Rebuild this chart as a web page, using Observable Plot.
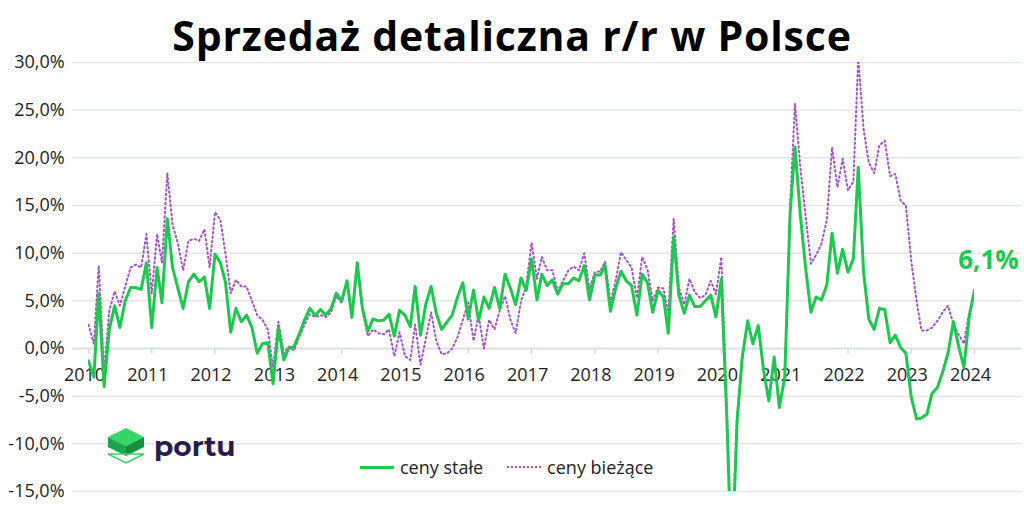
<!DOCTYPE html>
<html><head><meta charset="utf-8">
<script src="https://cdn.jsdelivr.net/npm/d3@7"></script>
<script src="https://cdn.jsdelivr.net/npm/@observablehq/plot@0.6"></script>
<style>
body{margin:0;background:#fff;font-family:"Open Sans",sans-serif;}
#wrap{position:relative;width:1024px;height:519px;overflow:hidden}
#title{height:55px;text-align:center;font-size:41px;font-weight:700;line-height:70px;color:#000;letter-spacing:0.8px}
#legend{position:absolute;left:360px;top:455px;font-size:18px;color:#222;display:flex;align-items:center}
#legend span.sw{display:inline-block;width:34px;margin-right:6px}
#logo{position:absolute;left:104px;top:424px;display:flex;align-items:center}
#logo b{font-size:28px;color:#2a1a4e;font-weight:700;margin-left:6px;font-family:"Montserrat","Open Sans",sans-serif}
</style></head><body>
<div id="wrap">
<div id="title">Sprzedaż detaliczna r/r w Polsce</div>
<div id="chart"></div>
<div id="logo"><svg width="44" height="44" viewBox="0 0 44 44">
<polygon points="22,4 40,13 22,22 4,13" fill="#37d46a"/>
<polygon points="4,13 22,22 22,32 4,23" fill="#1aa64a"/>
<polygon points="40,13 22,22 22,32 40,23" fill="#12903c"/>
<polygon points="4,30 22,39 40,30" fill="none" stroke="#37d46a" stroke-width="1.5"/>
</svg><b>portu</b></div>
<div id="legend"><span class="sw" style="border-top:3px solid #1ec84f"></span>ceny stałe<span style="width:24px;display:inline-block"></span><span class="sw" style="border-top:2px dotted #a552c8"></span>ceny bieżące</div>
</div>
<script>
const startYear = 2010;
const constPrices = [
 -1.3,-3,5.8,-4,2,4.5,2.2,5,6.4,6.4,6.2,9.0,
 2.2,8.5,4.8,13.6,8.5,6.3,4.2,7,7.8,7,7.5,4.2,
 9.9,9,7,1.7,4.2,2.8,3.5,2.2,-0.5,0.5,0.6,-3.7,
 2.2,-1.2,0,0.2,1.5,3.0,4.2,3.5,4.1,3.5,4.2,5.8,
 5.0,7.1,3.3,9.0,4.2,1.8,3.1,2.9,3.0,3.6,1.3,4.0,
 3.5,2.3,6.5,1.4,4.6,6.5,3.7,2.0,2.8,3.5,5.4,6.9,
 3.1,6.1,2.9,5.4,4.2,6.4,4.2,7.8,6.3,4.6,7.4,6.1,
 9.4,5.1,7.8,6.6,7.2,5.7,6.8,6.8,7.4,7.1,8.7,5.1,
 7.7,7.7,8.7,3.9,6.3,8.1,7.1,6.6,3.5,7.8,6.9,3.8,
 6.1,5.4,1.6,11.7,5.6,3.7,5.6,4.4,4.4,5.0,5.6,3.3,
 7.3,-7,-22.9,-7.6,-0.9,2.9,0.5,2.4,-2.3,-5.5,-0.9,-6.2,
 -3,14.2,21.1,14,8.5,3.8,5.4,5.1,6.7,12.1,7.9,10.4,
 8.0,9.4,19.0,8.0,3.1,2.0,4.2,4.1,0.6,1.4,0.1,-0.5,
 -5.1,-7.4,-7.3,-6.9,-4.7,-4.1,-2.5,-0.5,2.8,0.3,-2.0,3.3,
 6.1];
const currentPrices = [
 2.5,0.5,8.7,-2.5,4,6,4.5,6.5,8.5,8.8,8.5,12,
 5.8,12,9,18.4,13,11,8.2,11.3,11.5,11.3,12.5,8.5,
 14.3,13.5,10,5.8,7.2,6.5,6.5,5,3.5,3,2,-2,
 2.8,-0.5,0.2,-0.2,1.2,2.5,3.6,3.3,3.5,3.3,3.8,5.5,
 4.8,7,3.2,8.4,4,1.3,2.0,1.6,1.5,2.0,-0.8,1.7,
 -0.8,-1.2,2.5,-1.7,1,3.8,0.8,-0.6,-0.5,0,1.2,3.0,
 4.8,0.8,3.5,0,3,2,4,5.5,3,1.6,5,6.5,
 11.1,7.3,9.6,8.2,8.2,6,7.1,8.2,8.6,8.2,10,6.2,
 8.0,8.1,9.1,4.8,7.1,10.1,9.3,8.5,5.3,9.6,8.3,5.0,
 6.4,6.3,3.6,13.6,6.4,4.6,7.3,5.9,5.3,5.6,7.1,5.7,
 9.6,-6,-22,-7,-1,2.9,0.5,2.4,-2.3,-5.5,-1,-6,
 -3,15,25.7,19,14,8.9,9.8,11,13.5,21.1,16.9,19.9,
 16.6,17.5,30.5,23,19.5,18.4,21.3,21.8,18.1,18.3,15.5,15.0,
 9.2,5,1.9,1.9,2.2,2.9,3.8,4.5,2.6,1.5,0.5,3.7,
 6.1];
const yTicks = [-15,-10,-5,0,5,10,15,20,25,30];
const yearLabels = d3.range(2010, 2025);
const lastLabel = "6,1%";

const dateOf = i => new Date(startYear + Math.floor(i/12), i%12, 1);
const rows = constPrices.map((v,i)=>({date:dateOf(i), stale:v, biezace:currentPrices[i]}));
const years = yearLabels.map(y=>new Date(y,0,1));
const fmt = v => v.toFixed(1).replace(".", ",") + "%";
const last = rows[rows.length-1];

const chart = Plot.plot({
  width:1024, height:464,
  marginLeft:88, marginRight:50, marginTop:7, marginBottom:28,
  x:{type:"time", domain:[new Date(2010,0,1), new Date(2024,0,1)], axis:null},
  y:{domain:[-15,30], axis:null},
  style:{fontFamily:"Open Sans, sans-serif", fontSize:"18px", color:"#222", overflow:"visible"},
  marks:[
    Plot.ruleY(yTicks, {stroke:"#e3e6ec", strokeWidth:1.5, x1:new Date(2009,9,1), x2:new Date(2024,9,1)}),
    Plot.ruleY([0], {stroke:"#dfe2e8", strokeWidth:2, x1:new Date(2009,9,1), x2:new Date(2024,9,1)}),
    Plot.ruleX(years, {x:d=>d, y1:0, y2:-0.6, stroke:"#d5d9e0", strokeWidth:1.5}),
    Plot.text(yTicks, {x:new Date(2009,9,1), y:d=>d, text:fmt, textAnchor:"end", dx:-8, fontSize:18, fill:"#222"}),
    Plot.text(years, {x:d=>d, y:0, dy:27, text:d=>String(d.getFullYear()), fontSize:18, fill:"#222", dx:-4}),
    Plot.line(rows, {x:"date", y:"biezace", stroke:"#a552c8", strokeWidth:2, strokeDasharray:"1.5,3", strokeLinecap:"round", clip:true}),
    Plot.line(rows, {x:"date", y:"stale", stroke:"#1ec84f", strokeWidth:3, clip:true}),
    Plot.text([last], {x:"date", y:"stale", text:()=>lastLabel, dy:-30, dx:14, fontSize:26, fontWeight:"bold", fill:"#1ec84f"})
  ]
});
document.getElementById("chart").appendChild(chart);
</script>
</body></html>
